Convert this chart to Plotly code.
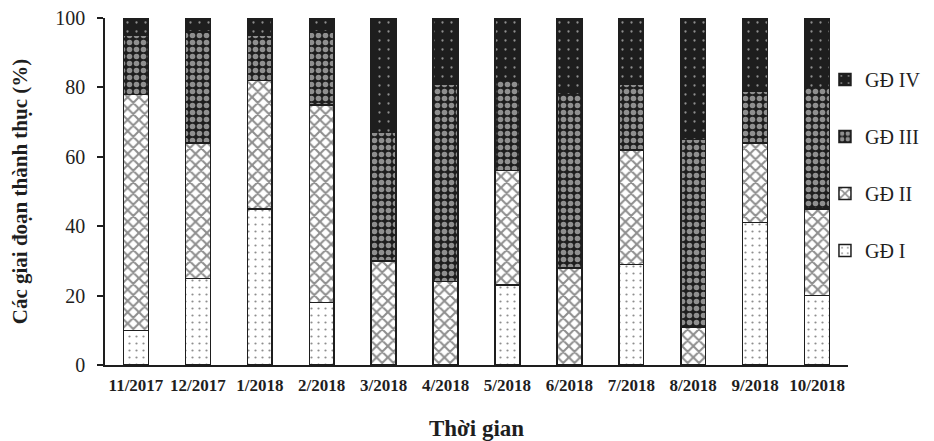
import plotly.graph_objects as go

months = ["11/2017", "12/2017", "1/2018", "2/2018", "3/2018", "4/2018",
          "5/2018", "6/2018", "7/2018", "8/2018", "9/2018", "10/2018"]
gd1 = [10, 25, 45, 18, 0, 0, 23, 0, 29, 0, 41, 20]
gd2 = [68, 39, 37, 57, 30, 24, 33, 28, 33, 11, 23, 25]
gd3 = [17, 32, 13, 21, 37, 57, 26, 50, 19, 54, 15, 35]
gd4 = [5, 4, 5, 4, 33, 19, 18, 22, 19, 35, 21, 20]

FONT = "Liberation Serif"
INK = "#1e1e1e"

styles = [
    ("GĐ I", gd1, "white", dict(shape=".", fgcolor=INK, size=7, solidity=0.08)),
    ("GĐ II", gd2, "white", dict(shape="x", fgcolor=INK, size=8, solidity=0.45)),
    ("GĐ III", gd3, INK, dict(shape=".", fgcolor="white", size=7, solidity=0.5)),
    ("GĐ IV", gd4, INK, dict(shape=".", fgcolor="white", size=9, solidity=0.05)),
]

fig = go.Figure()
for i, (name, vals, col, pat) in enumerate(styles):
    fig.add_trace(go.Bar(
        x=months, y=vals, name=name, legendgroup=name, legendrank=4 - i,
        marker=dict(color=col, pattern=dict(fillmode="overlay", **pat),
                    line=dict(color=INK, width=1.5)),
    ))

fig.update_layout(
    width=926, height=433,
    barmode="stack", bargap=0.6,
    paper_bgcolor="white", plot_bgcolor="white",
    margin=dict(l=97, r=86, t=10, b=76, autoexpand=False),
    font=dict(family=FONT, color=INK),
    legend=dict(x=0.969, xanchor="left", y=0.879, yanchor="top",
                traceorder="grouped", tracegroupgap=28, itemwidth=30,
                font=dict(size=20, family=FONT, color=INK),
                bgcolor="rgba(0,0,0,0)"),
    showlegend=True,
)
fig.update_xaxes(
    showline=True, linecolor=INK, linewidth=1.5, ticks="",
    tickfont=dict(size=17, family=FONT, color=INK, weight="bold"),
    ticklabelstandoff=4,
    title=dict(text="<b>Thời gian</b>", font=dict(size=23, family=FONT, color=INK), standoff=26),
    showgrid=False,
)
fig.update_yaxes(
    range=[0, 100], dtick=20, showline=True, linecolor=INK, linewidth=1.5,
    ticks="outside", ticklen=6, tickcolor=INK, tickwidth=1.5,
    tickfont=dict(size=20, family=FONT, color=INK),
    ticklabelstandoff=8, ticklabeloverflow="allow",
    title=dict(text="<b>Các giai đoạn thành thục (%)</b>", font=dict(size=21, family=FONT, color=INK), standoff=30),
    showgrid=False, zeroline=False,
)
fig.write_html("out.html")
